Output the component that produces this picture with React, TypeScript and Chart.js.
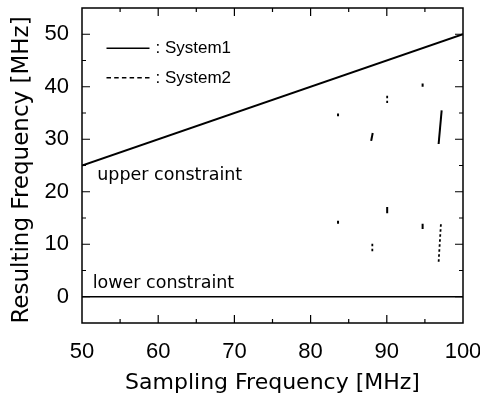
import React, { useEffect, useRef } from 'react';
import { Chart, registerables } from 'chart.js';
Chart.register(...registerables);

const xMin = 50;
const xMax = 100;
const yMin = -5;
const yMax = 55;
const xTickLabels = [50, 60, 70, 80, 90, 100];
const yTickLabels = [0, 10, 20, 30, 40, 50];
const minorStep = 5;

const upperConstraint = [
  { x: 50, y: 25 },
  { x: 100, y: 50 },
];
const lowerConstraint = [
  { x: 50, y: 0 },
  { x: 100, y: 0 },
];

// System1 (solid) short segments: [x1, y1, x2, y2]
const system1Segments = [
  [83.6, 34.9, 83.6, 34.4],
  [88.15, 31.2, 87.95, 29.7],
  [94.7, 40.6, 94.7, 40.0],
  [97.2, 35.5, 96.8, 29.1],
  [83.6, 14.5, 83.6, 13.9],
  [90.05, 17.1, 90.05, 15.9],
  [94.7, 13.9, 94.7, 12.9],
];
// System2 (dashed) short segments
const system2Segments = [
  [90.05, 38.3, 90.05, 36.9],
  [88.1, 10.1, 88.1, 8.5],
  [97.1, 13.8, 96.8, 6.6],
];

const xTitle = 'Sampling Frequency [MHz]';
const yTitle = 'Resulting Frequency [MHz]';
const legendLabels = [': System1', ': System2'];
const upperLabel = { text: 'upper constraint', x: 52.0, y: 22.2 };
const lowerLabel = { text: 'lower constraint', x: 51.4, y: 1.65 };

const TICK_FONT = '"Liberation Sans", Arial, sans-serif';
const TITLE_FONT = '"DejaVu Sans", sans-serif';

const framePlugin = {
  id: 'frame',
  afterDatasetsDraw(chart: any) {
    const { ctx, chartArea: a, scales } = chart;
    const xs = scales.x;
    const ys = scales.y;
    ctx.save();
    ctx.strokeStyle = '#000';
    ctx.lineWidth = 1.5;
    ctx.strokeRect(a.left, a.top, a.right - a.left, a.bottom - a.top);
    // inward ticks
    ctx.lineWidth = 1.2;
    ctx.beginPath();
    for (let v = xMin + minorStep; v < xMax; v += minorStep) {
      const px = xs.getPixelForValue(v);
      const len = v % 10 === 0 ? 8 : 4;
      ctx.moveTo(px, a.bottom);
      ctx.lineTo(px, a.bottom - len);
      ctx.moveTo(px, a.top);
      ctx.lineTo(px, a.top + len);
    }
    for (let v = yMin + minorStep; v < yMax; v += minorStep) {
      const py = ys.getPixelForValue(v);
      const len = v % 10 === 0 ? 8 : 4;
      ctx.moveTo(a.left, py);
      ctx.lineTo(a.left + len, py);
      ctx.moveTo(a.right, py);
      ctx.lineTo(a.right - len, py);
    }
    ctx.stroke();

    // legend
    const lx1 = a.left + 24.5;
    const lx2 = a.left + 67.5;
    const ly1 = a.top + 40.3;
    const ly2 = a.top + 69.7;
    ctx.lineWidth = 1.5;
    ctx.beginPath();
    ctx.moveTo(lx1, ly1);
    ctx.lineTo(lx2, ly1);
    ctx.stroke();
    ctx.setLineDash([4.5, 3.2]);
    ctx.beginPath();
    ctx.moveTo(lx1, ly2);
    ctx.lineTo(lx2, ly2);
    ctx.stroke();
    ctx.setLineDash([]);
    ctx.fillStyle = '#000';
    ctx.font = '17px ' + TICK_FONT;
    ctx.textBaseline = 'middle';
    ctx.textAlign = 'left';
    ctx.fillText(legendLabels[0], a.left + 73.5, ly1 + 0.5);
    ctx.fillText(legendLabels[1], a.left + 73.5, ly2 + 0.5);

    // annotations
    ctx.font = '17.5px ' + TITLE_FONT;
    ctx.textBaseline = 'alphabetic';
    for (const lab of [upperLabel, lowerLabel]) {
      ctx.fillText(lab.text, xs.getPixelForValue(lab.x), ys.getPixelForValue(lab.y));
    }

    // y axis title
    ctx.font = '23px ' + TITLE_FONT;
    ctx.textAlign = 'center';
    ctx.textBaseline = 'middle';
    ctx.translate(22, (a.top + a.bottom) / 2 + 4.5);
    ctx.rotate(-Math.PI / 2);
    ctx.fillText(yTitle, 0, 0);
    ctx.restore();
  },
};

function segDatasets(segs: number[][], dashed: boolean) {
  return segs.map((s) => ({
    data: [
      { x: s[0], y: s[1] },
      { x: s[2], y: s[3] },
    ],
    showLine: true,
    borderColor: '#000',
    borderWidth: dashed ? 1.8 : 2,
    borderDash: dashed ? [2.5, 2.5] : [],
    pointRadius: 0,
    fill: false,
  }));
}

export default function App() {
  const ref = useRef<HTMLCanvasElement>(null);
  useEffect(() => {
    if (!ref.current) return;
    const chart = new Chart(ref.current, {
      type: 'scatter',
      data: {
        datasets: [
          {
            data: upperConstraint,
            showLine: true,
            borderColor: '#000',
            borderWidth: 2,
            pointRadius: 0,
          },
          {
            data: lowerConstraint,
            showLine: true,
            borderColor: '#000',
            borderWidth: 1.5,
            pointRadius: 0,
          },
          ...segDatasets(system1Segments, false),
          ...segDatasets(system2Segments, true),
        ] as any,
      },
      options: {
        responsive: false,
        animation: false,
        layout: { padding: { left: 0, top: 8, right: 17, bottom: 0 } },
        plugins: { legend: { display: false }, tooltip: { enabled: false } },
        scales: {
          x: {
            type: 'linear',
            min: xMin,
            max: xMax,
            afterBuildTicks: (s: any) => {
              s.ticks = xTickLabels.map((v) => ({ value: v }));
            },
            afterFit: (s: any) => {
              s.height = 78;
              s.paddingLeft = 0;
              s.paddingRight = 0;
            },
            grid: { display: false, drawTicks: false },
            border: { display: false },
            ticks: {
              color: '#000',
              padding: 16,
              maxRotation: 0,
              autoSkip: false,
              font: { family: TICK_FONT, size: 22 },
            },
            title: {
              display: true,
              text: xTitle,
              color: '#000',
              font: { family: TITLE_FONT, size: 22 },
              padding: { top: 0, bottom: 5 },
            },
          },
          y: {
            type: 'linear',
            min: yMin,
            max: yMax,
            afterBuildTicks: (s: any) => {
              s.ticks = yTickLabels.map((v) => ({ value: v }));
            },
            afterFit: (s: any) => {
              s.width = 82;
              s.paddingTop = 0;
              s.paddingBottom = 0;
            },
            grid: { display: false, drawTicks: false },
            border: { display: false },
            ticks: {
              color: '#000',
              padding: 13,
              autoSkip: false,
              font: { family: TICK_FONT, size: 22 },
            },
            title: { display: false },
          },
        },
      },
      plugins: [framePlugin],
    });
    return () => chart.destroy();
  }, []);
  return (
    <div style={{ position: 'absolute', left: 0, top: 0, width: 480, height: 401, background: '#fff' }}>
      <canvas ref={ref} width={480} height={401} />
    </div>
  );
}
